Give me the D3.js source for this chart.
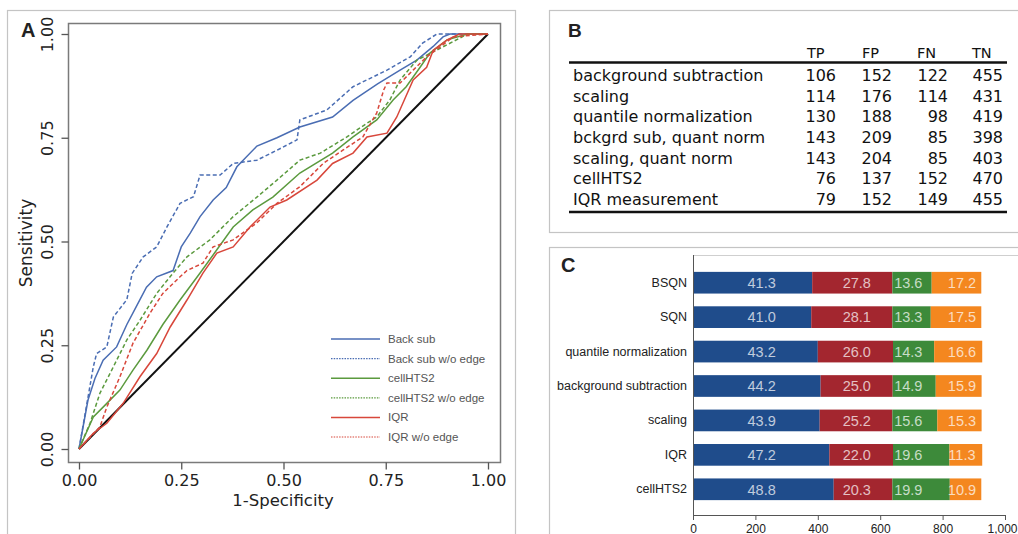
<!DOCTYPE html>
<html><head><meta charset="utf-8">
<script src="https://cdn.jsdelivr.net/npm/d3@7"></script>
<style>body{margin:0;background:#fff}svg{display:block}</style>
</head><body><svg id="c" width="1018" height="534"></svg>
<script>
// ---------- Panel A data: ROC curves [1-specificity, sensitivity] ----------
const backSub = [[0,0],[0.022,0.118],[0.039,0.17],[0.059,0.214],[0.092,0.246],[0.117,0.30],[0.14,0.343],[0.165,0.39],[0.19,0.415],[0.23,0.43],[0.25,0.487],[0.272,0.52],[0.296,0.56],[0.328,0.60],[0.36,0.63],[0.386,0.68],[0.435,0.73],[0.484,0.75],[0.54,0.776],[0.62,0.80],[0.67,0.84],[0.73,0.88],[0.785,0.913],[0.826,0.937],[0.866,0.97],[0.89,0.993],[0.907,1],[1,1]];
const backSubNoEdge = [[0,0],[0.035,0.198],[0.043,0.23],[0.068,0.246],[0.084,0.318],[0.117,0.36],[0.13,0.423],[0.157,0.463],[0.19,0.487],[0.215,0.535],[0.247,0.592],[0.28,0.608],[0.296,0.66],[0.345,0.66],[0.377,0.688],[0.435,0.696],[0.484,0.72],[0.533,0.745],[0.54,0.793],[0.606,0.817],[0.67,0.873],[0.753,0.913],[0.81,0.945],[0.84,0.978],[0.875,1],[1,1]];
const cellHTS2 = [[0,0],[0.035,0.077],[0.068,0.11],[0.10,0.142],[0.132,0.19],[0.166,0.238],[0.205,0.30],[0.247,0.359],[0.296,0.424],[0.337,0.48],[0.377,0.535],[0.425,0.576],[0.474,0.607],[0.54,0.665],[0.62,0.713],[0.67,0.752],[0.728,0.793],[0.768,0.841],[0.80,0.873],[0.834,0.92],[0.858,0.954],[0.90,0.986],[0.95,1],[1,1]];
const cellHTS2NoEdge = [[0,0],[0.027,0.062],[0.051,0.134],[0.084,0.198],[0.117,0.263],[0.149,0.31],[0.19,0.375],[0.23,0.424],[0.264,0.463],[0.32,0.504],[0.377,0.56],[0.435,0.607],[0.484,0.648],[0.54,0.696],[0.59,0.713],[0.655,0.752],[0.704,0.785],[0.728,0.80],[0.76,0.841],[0.785,0.889],[0.826,0.937],[0.89,0.969],[0.95,1],[1,1]];
const iqr = [[0,0],[0.035,0.038],[0.068,0.062],[0.108,0.11],[0.149,0.174],[0.19,0.23],[0.223,0.294],[0.264,0.359],[0.303,0.424],[0.337,0.472],[0.377,0.487],[0.418,0.535],[0.467,0.583],[0.508,0.60],[0.582,0.648],[0.62,0.688],[0.67,0.713],[0.704,0.752],[0.753,0.761],[0.777,0.80],[0.817,0.889],[0.85,0.92],[0.866,0.961],[0.90,0.986],[0.93,1],[1,1]];
const iqrNoEdge = [[0,0],[0.051,0.053],[0.068,0.101],[0.10,0.174],[0.132,0.255],[0.174,0.328],[0.205,0.375],[0.247,0.415],[0.264,0.43],[0.303,0.448],[0.328,0.487],[0.377,0.504],[0.435,0.545],[0.484,0.592],[0.54,0.632],[0.597,0.688],[0.645,0.72],[0.694,0.752],[0.728,0.81],[0.745,0.865],[0.753,0.882],[0.785,0.882],[0.817,0.913],[0.85,0.945],[0.883,0.969],[0.915,0.993],[1,1]];
const rocNames = ["Back sub","Back sub w/o edge","cellHTS2","cellHTS2 w/o edge","IQR","IQR w/o edge"];
const rocTicks = [0,0.25,0.5,0.75,1];

// ---------- Panel B data ----------
const tableHeaders = ["TP","FP","FN","TN"];
const tableRows = ["background subtraction","scaling","quantile normalization","bckgrd sub, quant norm","scaling, quant norm","cellHTS2","IQR measurement"];
const tpVals = [106,114,130,143,143,76,79];
const fpVals = [152,176,188,209,204,137,152];
const fnVals = [122,114,98,85,85,152,149];
const tnVals = [455,431,419,398,403,470,455];

// ---------- Panel C data ----------
const barCats = ["BSQN","SQN","quantile normalization","background subtraction","scaling","IQR","cellHTS2"];
const seg1 = [382,379,400,409,406,437,451];
const seg2 = [257,260,241,231,233,204,188];
const seg3 = [126,123,132,138,144,181,184];
const seg4 = [159,162,154,147,142,105,101];
const pct1 = ["41.3","41.0","43.2","44.2","43.9","47.2","48.8"];
const pct2 = ["27.8","28.1","26.0","25.0","25.2","22.0","20.3"];
const pct3 = ["13.6","13.3","14.3","14.9","15.6","19.6","19.9"];
const pct4 = ["17.2","17.5","16.6","15.9","15.3","11.3","10.9"];
const pctLabelAt = [220,525,690,862];
const barTicks = [0,200,400,600,800,1000];

const svg = d3.select("#c");
const frame = "#c4c4c4";

// ================= Panel A =================
svg.append("rect").attr("x",7.5).attr("y",10.5).attr("width",508).attr("height",540)
  .attr("fill","none").attr("stroke",frame).attr("stroke-width",1.2);
const xA = d3.scaleLinear().domain([0,1]).range([79,488]);
const yA = d3.scaleLinear().domain([0,1]).range([449,34]);
svg.append("rect").attr("x",68.5).attr("y",23.5).attr("width",432).attr("height",439)
  .attr("fill","none").attr("stroke","#7a7a7a").attr("stroke-width",1.5);

const axisFont = "DejaVu Sans, sans-serif";
const gxA = svg.append("g").attr("transform","translate(0,462.5)")
  .call(d3.axisBottom(xA).tickValues(rocTicks).tickSize(7).tickFormat(d3.format(".2f")));
gxA.select(".domain").remove();
gxA.selectAll("line").attr("stroke","#555").attr("stroke-width",1.3);
gxA.selectAll("text").attr("font-family",axisFont).attr("font-size",16).attr("fill","#222")
  .attr("y",23.5).attr("dy",null);

const gyA = svg.append("g").attr("transform","translate(68.5,0)")
  .call(d3.axisLeft(yA).tickValues(rocTicks).tickSize(7).tickFormat(d3.format(".2f")));
gyA.select(".domain").remove();
gyA.selectAll("line").attr("stroke","#555").attr("stroke-width",1.3);
gyA.selectAll("text").attr("font-family",axisFont).attr("font-size",16).attr("fill","#222")
  .attr("x",null).attr("dy",null)
  .attr("transform","translate(-16,0) rotate(-90)").attr("text-anchor","middle");

svg.append("text").attr("x",283).attr("y",506).attr("text-anchor","middle")
  .attr("font-family",axisFont).attr("font-size",16.5).attr("fill","#222").text("1-Specificity");
svg.append("text").attr("transform","translate(32,243) rotate(-90)").attr("text-anchor","middle")
  .attr("font-family",axisFont).attr("font-size",17).attr("fill","#222").text("Sensitivity");
svg.append("text").attr("x",21).attr("y",37).attr("font-family","Liberation Sans, Arial, sans-serif")
  .attr("font-weight","bold").attr("font-size",20).attr("fill","#222").text("A");

// diagonal
svg.append("line").attr("x1",xA(0)).attr("y1",yA(0)).attr("x2",xA(1)).attr("y2",yA(1))
  .attr("stroke","#111").attr("stroke-width",2);

const blue = "#4a6db3", green = "#5b9a3e", red = "#d8473b";
const series = [
  {d:backSub, c:blue, dash:null},
  {d:backSubNoEdge, c:blue, dash:"4,2.5"},
  {d:cellHTS2, c:green, dash:null},
  {d:cellHTS2NoEdge, c:green, dash:"4,2.5"},
  {d:iqr, c:red, dash:null},
  {d:iqrNoEdge, c:red, dash:"4,2.5"}
];
const lineA = d3.line().x(d=>xA(d[0])).y(d=>yA(d[1]));
series.forEach(s=>{
  svg.append("path").attr("d",lineA(s.d)).attr("fill","none").attr("stroke",s.c)
    .attr("stroke-width",1.5).attr("stroke-dasharray",s.dash);
});

// legend
const legY = d3.scalePoint().domain(rocNames).range([339,437]);
rocNames.forEach((n,i)=>{
  const s = series[i];
  svg.append("line").attr("x1",331).attr("x2",380).attr("y1",legY(n)).attr("y2",legY(n))
    .attr("stroke",s.c).attr("stroke-width",s.dash?1.2:1.5).attr("stroke-dasharray",s.dash?"1.5,1.2":null);
  svg.append("text").attr("x",388).attr("y",legY(n)).attr("dy","0.35em")
    .attr("font-family","Liberation Sans, Arial, sans-serif").attr("font-size",11.5)
    .attr("fill","#555").text(n);
});

// ================= Panel B =================
svg.append("rect").attr("x",549.5).attr("y",10.5).attr("width",480).attr("height",222)
  .attr("fill","none").attr("stroke",frame).attr("stroke-width",1.2);
svg.append("text").attr("x",568).attr("y",37).attr("font-family","Liberation Sans, Arial, sans-serif")
  .attr("font-weight","bold").attr("font-size",19).attr("fill","#222").text("B");
const tFont = "DejaVu Sans, Verdana, sans-serif";
const colRight = [836,892,948,1003];
const colHeadX = [807,862,917,972];
const rowY = d3.scalePoint().domain(tableRows).range([81,205]);
tableHeaders.forEach((h,i)=>{
  svg.append("text").attr("x",colHeadX[i]).attr("y",57.5).attr("font-family",tFont)
    .attr("font-size",14.5).attr("fill","#111").text(h);
});
svg.append("line").attr("x1",569).attr("x2",1007).attr("y1",62.5).attr("y2",62.5).attr("stroke","#111").attr("stroke-width",2.5);
svg.append("line").attr("x1",569).attr("x2",1007).attr("y1",212).attr("y2",212).attr("stroke","#111").attr("stroke-width",2.5);
const cols = [tpVals,fpVals,fnVals,tnVals];
tableRows.forEach((r,i)=>{
  svg.append("text").attr("x",573).attr("y",rowY(r)).attr("font-family",tFont)
    .attr("font-size",16).attr("fill","#111").text(r);
  cols.forEach((c,j)=>{
    svg.append("text").attr("x",colRight[j]).attr("y",rowY(r)).attr("text-anchor","end")
      .attr("font-family",tFont).attr("font-size",16).attr("fill","#111").text(c[i]);
  });
});

// ================= Panel C =================
svg.append("rect").attr("x",549.5).attr("y",247.5).attr("width",480).attr("height",300)
  .attr("fill","none").attr("stroke",frame).attr("stroke-width",1.2);
svg.append("text").attr("x",561).attr("y",272).attr("font-family","Liberation Sans, Arial, sans-serif")
  .attr("font-weight","bold").attr("font-size",20).attr("fill","#222").text("C");
const xC = d3.scaleLinear().domain([0,1000]).range([693,1005]);
const yC = d3.scaleBand().domain(barCats).range([265.5,506.5]).paddingInner(0.37).paddingOuter(0.185);
svg.append("line").attr("x1",693).attr("x2",1018).attr("y1",255.5).attr("y2",255.5).attr("stroke","#cfcfcf");
const segs = [seg1,seg2,seg3,seg4];
const pcts = [pct1,pct2,pct3,pct4];
const barColors = ["#1f4c8b","#a3262f","#3d8a3a","#f4871f"];
barCats.forEach((cat,i)=>{
  let acc = 0;
  segs.forEach((s,j)=>{
    svg.append("rect").attr("x",xC(acc)).attr("y",yC(cat)).attr("width",xC(acc+s[i])-xC(acc))
      .attr("height",yC.bandwidth()).attr("fill",barColors[j]);
    acc += s[i];
  });
  pcts.forEach((p,j)=>{
    svg.append("text").attr("x",xC(pctLabelAt[j])).attr("y",yC(cat)+yC.bandwidth()/2).attr("dy","0.36em")
      .attr("text-anchor","middle").attr("font-family","Liberation Sans, Arial, sans-serif")
      .attr("font-size",14.5).attr("fill","#fff").attr("fill-opacity",0.72).text(p[i]);
  });
});
const gyC = svg.append("g").attr("transform","translate(693,0)").call(d3.axisLeft(yC).tickSize(0).tickPadding(6));
gyC.select(".domain").attr("stroke","#555").attr("d","M0.5,255V515");
gyC.selectAll("text").attr("font-family","Liberation Sans, Arial, sans-serif").attr("font-size",12.5).attr("fill","#222");
const gxC = svg.append("g").attr("transform","translate(0,515)")
  .call(d3.axisBottom(xC).tickValues(barTicks).tickSize(5).tickSizeOuter(0).tickFormat(d3.format(",")));
gxC.select(".domain").attr("stroke","#555");
gxC.selectAll("line").attr("stroke","#555");
gxC.selectAll("text").attr("font-family","Liberation Sans, Arial, sans-serif").attr("font-size",12).attr("fill","#222")
  .attr("y",17.5).attr("dy",null);
gxC.selectAll(".tick").filter(d=>d===1000).select("text").attr("text-anchor","end").attr("x",12);
</script></body></html>
